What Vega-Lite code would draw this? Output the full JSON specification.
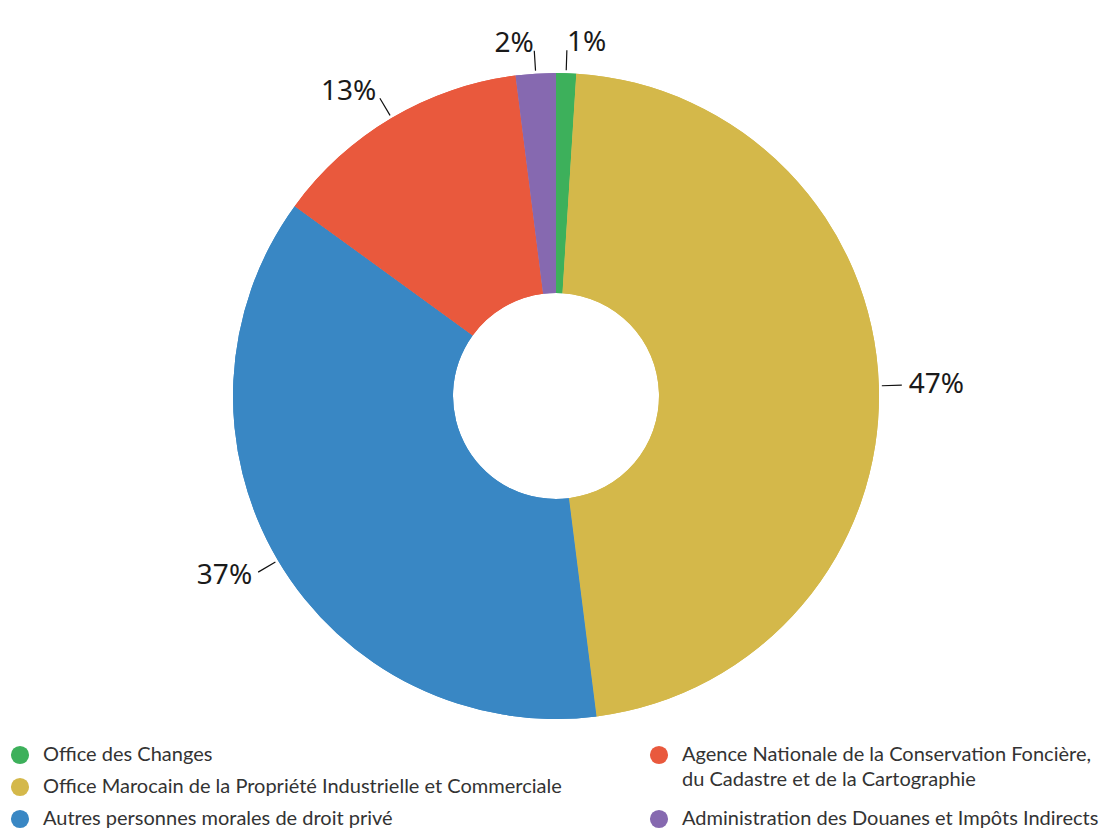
{
  "$schema": "https://vega.github.io/schema/vega-lite/v6.json",
  "width": 1104,
  "height": 792,
  "padding": {"left": 4, "top": 0, "right": 0, "bottom": 39},
  "autosize": {"type": "none"},
  "background": "white",
  "config": {"view": {"stroke": null}},
  "data": {
    "values": [
      {"name": "Office des Changes", "share": 0.01, "ord": 1},
      {"name": "Office Marocain de la Propriété Industrielle et Commerciale", "share": 0.47, "ord": 2},
      {"name": "Autres personnes morales de droit privé", "share": 0.37, "ord": 3},
      {"name": "Agence Nationale de la Conservation Foncière, du Cadastre et de la Cartographie", "share": 0.13, "ord": 4},
      {"name": "Administration des Douanes et Impôts Indirects", "share": 0.02, "ord": 5}
    ]
  },
  "layer": [
    {
      "mark": {"type": "arc", "outerRadius": 323, "innerRadius": 103},
      "encoding": {
        "theta": {"field": "share", "type": "quantitative", "stack": true},
        "order": {"field": "ord", "type": "quantitative"},
        "color": {
          "field": "name",
          "type": "nominal",
          "scale": {
            "domain": ["Office des Changes", "Office Marocain de la Propriété Industrielle et Commerciale", "Autres personnes morales de droit privé", "Agence Nationale de la Conservation Foncière, du Cadastre et de la Cartographie", "Administration des Douanes et Impôts Indirects"],
            "range": ["#3db05b", "#d4b84a", "#3987c4", "#e9593d", "#8669b0"]
          },
          "legend": {
            "orient": "none",
            "legendX": 6,
            "legendY": 745,
            "direction": "vertical",
            "title": null,
            "values": ["Office des Changes", "Office Marocain de la Propriété Industrielle et Commerciale", "Autres personnes morales de droit privé"],
            "symbolType": "circle",
            "symbolSize": 330,
            "symbolStrokeWidth": 0,
            "labelFont": "Lato",
            "labelFontSize": 20,
            "labelColor": "#333333",
            "labelLimit": 700,
            "labelOffset": 13,
            "rowPadding": 12,
            "padding": 0
          }
        }
      }
    },
    {
      "mark": {"type": "arc", "outerRadius": 323, "innerRadius": 103},
      "encoding": {
        "theta": {"field": "share", "type": "quantitative", "stack": true},
        "order": {"field": "ord", "type": "quantitative"},
        "color": {
          "field": "name",
          "type": "nominal",
          "scale": {
            "domain": ["Office des Changes", "Office Marocain de la Propriété Industrielle et Commerciale", "Autres personnes morales de droit privé", "Agence Nationale de la Conservation Foncière, du Cadastre et de la Cartographie", "Administration des Douanes et Impôts Indirects"],
            "range": ["#3db05b", "#d4b84a", "#3987c4", "#e9593d", "#8669b0"]
          },
          "legend": {
            "orient": "none",
            "legendX": 645,
            "legendY": 745,
            "direction": "vertical",
            "title": null,
            "values": ["Agence Nationale de la Conservation Foncière, du Cadastre et de la Cartographie", "Administration des Douanes et Impôts Indirects"],
            "labelExpr": "indexof(datum.label, 'Agence') == 0 ? ['Agence Nationale de la Conservation Foncière,', 'du Cadastre et de la Cartographie'] : datum.label",
            "symbolType": "circle",
            "symbolSize": 330,
            "symbolStrokeWidth": 0,
            "labelFont": "Lato",
            "labelFontSize": 20,
            "labelColor": "#333333",
            "labelLimit": 700,
            "labelOffset": 13,
            "rowPadding": 19,
            "padding": 0,
            "encode": {"labels": {"update": {"lineHeight": {"value": 25}}}}
          }
        }
      }
    },
    {
      "mark": {"type": "arc", "padAngle": 3.14159, "fillOpacity": 0, "stroke": "#111111", "strokeWidth": 1.2},
      "encoding": {
        "theta": {"field": "share", "type": "quantitative", "stack": true},
        "order": {"field": "ord", "type": "quantitative"},
        "detail": {"field": "name", "type": "nominal"},
        "radius": {"value": 346},
        "radius2": {"value": 326}
      }
    },
    {
      "mark": {
        "type": "text",
        "font": "Noto Sans",
        "fontSize": 28,
        "color": "#1a1a1a",
        "baseline": "middle",
        "align": {"expr": "(datum.share_start + datum.share_end) < 1 ? 'left' : 'right'"}
      },
      "encoding": {
        "theta": {"field": "share", "type": "quantitative", "stack": true},
        "order": {"field": "ord", "type": "quantitative"},
        "detail": {"field": "name", "type": "nominal"},
        "radius": {"value": 353},
        "text": {"field": "share", "type": "quantitative", "format": ".0%"}
      }
    }
  ],
  "resolve": {"scale": {"color": "independent"}, "legend": {"color": "independent"}}
}
